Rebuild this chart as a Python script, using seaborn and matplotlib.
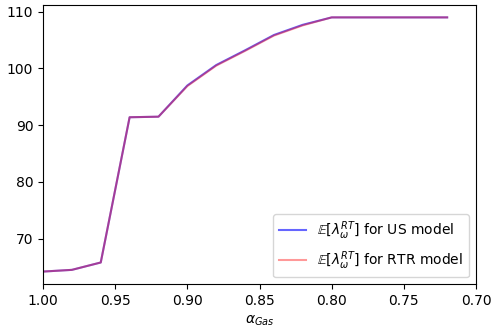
import matplotlib
matplotlib.use("Agg")
import matplotlib.pyplot as plt
import seaborn as sns
import numpy as np
import pandas as pd

alpha_gas = [1.00, 0.98, 0.96, 0.94, 0.92, 0.90, 0.88, 0.86, 0.84, 0.82, 0.80, 0.78, 0.76, 0.74, 0.72]
us_model = [64.2, 64.5, 65.8, 91.4, 91.5, 97.0, 100.6, 103.2, 105.9, 107.7, 109.0, 109.0, 109.0, 109.0, 109.0]
rtr_model = [64.2, 64.5, 65.8, 91.4, 91.5, 96.9, 100.5, 103.1, 105.8, 107.6, 109.0, 109.0, 109.0, 109.0, 109.0]

df = pd.DataFrame({"alpha": alpha_gas, "us": us_model, "rtr": rtr_model})

fig = plt.figure(figsize=(4.91, 3.28), dpi=100)
ax = fig.add_axes([0.0876, 0.1333, 0.8819, 0.8524])

sns.lineplot(data=df, x="alpha", y="us", ax=ax, color="blue", alpha=0.6,
             label=r"$\mathbb{E}[\lambda_\omega^{RT}]$ for US model")
sns.lineplot(data=df, x="alpha", y="rtr", ax=ax, color="red", alpha=0.4,
             label=r"$\mathbb{E}[\lambda_\omega^{RT}]$ for RTR model")

ax.set_xlim(1.00, 0.70)
ax.set_xticks([1.00, 0.95, 0.90, 0.85, 0.80, 0.75, 0.70])
ax.set_xticklabels(["1.00", "0.95", "0.90", "0.85", "0.80", "0.75", "0.70"])
ax.set_yticks([70, 80, 90, 100, 110])
ax.set_xlabel(r"$\alpha_{Gas}$")
ax.set_ylabel("")
ax.legend(loc="lower right")

fig.savefig("out.png", dpi=100)
